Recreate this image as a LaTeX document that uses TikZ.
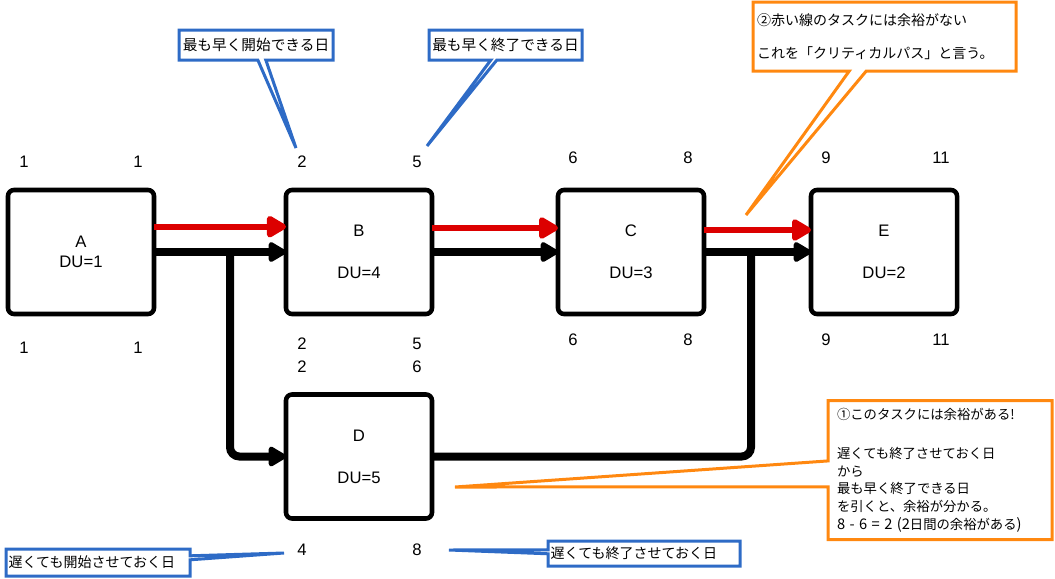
\documentclass[tikz,border=0pt]{standalone}
\usepackage{fontspec}
\setmainfont{Liberation Sans}
\newfontfamily\jp{Noto Sans CJK JP}
\usetikzlibrary{arrows.meta,shapes.callouts}
\definecolor{redline}{RGB}{220,0,0}
\definecolor{bluec}{RGB}{46,107,198}
\definecolor{orangec}{RGB}{255,136,16}
\begin{document}
\begin{tikzpicture}[x=0.75pt,y=-0.75pt,
  task/.style={draw, line width=3.4pt, rounded corners=4.5pt, minimum width=109.5pt, minimum height=93pt, inner sep=0pt, outer sep=0pt, align=center, font=\fontsize{12.5}{15}\selectfont},
  num/.style={font=\fontsize{12.5}{15}\selectfont, inner sep=0pt},
  redarr/.style={draw=redline, line width=4.5pt, -{Triangle[length=16.5pt,width=18pt,round]}},
  blkarr/.style={draw=black, line width=6pt, -{Triangle[length=15pt,width=16.5pt,round]}},
  blkline/.style={draw=black, line width=6pt},
  bcall/.style={rectangle callout, draw=bluec, line width=2.25pt, fill=white, inner sep=2pt},
  ocall/.style={rectangle callout, draw=orangec, line width=2.25pt, fill=white, inner sep=3pt}]
\useasboundingbox (0,0) rectangle (1055,578);

% task boxes
\node[task] (A) at (81,252) {A\\DU=1};
\node[task] (B) at (359,252) {B\\[16.5pt]DU=4};
\node[task] (C) at (631,252) {C\\[16.5pt]DU=3};
\node[task] (E) at (884,252) {E\\[16.5pt]DU=2};
\node[task] (D) at (359,456.5) {D\\[16.5pt]DU=5};

% numbers
\node[num] (a1) at (24,162) {1};
\node[num] (a2) at (138,162) {1};
\node[num] (a3) at (24,348) {1};
\node[num] (a4) at (138,348) {1};
\node[num] (b1) at (302,162) {2};
\node[num] (b2) at (417,162) {5};
\node[num] (b3) at (302,344) {2};
\node[num] (b4) at (417,344) {5};
\node[num] (b5) at (302,367) {2};
\node[num] (b6) at (417,367) {6};
\node[num] (c1) at (573,158) {6};
\node[num] (c2) at (688,158) {8};
\node[num] (c3) at (573,340) {6};
\node[num] (c4) at (688,340) {8};
\node[num] (e1) at (826,158) {9};
\node[num] (e2) at (941,158) {11};
\node[num] (e3) at (826,340) {9};
\node[num] (e4) at (941,340) {11};
\node[num] (d1) at (302,550) {4};
\node[num] (d2) at (417,550) {8};

% junctions
\coordinate (j1) at (230,252);
\coordinate (j2) at (751,252);

% black connectors
\draw[blkarr] (A.east) -- (B.west);
\draw[blkarr] (B.east) -- (C.west);
\draw[blkarr] (C.east) -- (E.west);
\draw[blkarr, rounded corners=7pt] (j1) |- (D.west);
\draw[blkline, rounded corners=7pt] (D.east) -| (j2);

% red connectors
\draw[redarr] ([yshift=19pt]A.east) -- ([yshift=19pt]B.west);
\draw[redarr] ([yshift=18pt]B.east) -- ([yshift=18pt]C.west);
\draw[redarr] ([yshift=16.5pt]C.east) -- ([yshift=16.5pt]E.west);

% callout tips
\coordinate (t1) at (296,148);
\coordinate (t2) at (427,146);
\coordinate (t3) at (746,215);
\coordinate (t4) at (455,487);
\coordinate (t5) at (284,553);
\coordinate (t6) at (449,550);

\node[bcall, minimum width=115.5pt, minimum height=22.5pt, callout absolute pointer={(t1)}, callout pointer width=6pt, font=\jp\fontsize{11}{13}\selectfont] (k1) at (256,45) {最も早く開始できる日};
\node[bcall, minimum width=114.75pt, minimum height=22.5pt, callout absolute pointer={(t2)}, callout pointer width=4.5pt, font=\jp\fontsize{11}{13}\selectfont] (k2) at (505.5,45) {最も早く終了できる日};
\node[ocall, minimum width=197.25pt, minimum height=51.75pt, text width=191pt, align=left, callout absolute pointer={(t3)}, callout pointer width=12.75pt, font=\jp\fontsize{10.5}{13}\selectfont] (k3) at (884.5,36.5) {②赤い線のタスクには余裕がない\\[12pt]これを「クリティカルパス」と言う。};
\node[ocall, inner xsep=6.75pt, minimum width=168pt, minimum height=104.25pt, text width=154.5pt, align=left, callout absolute pointer={(t4)}, callout pointer width=19.5pt, font=\jp\fontsize{10}{13.3}\selectfont] (k4) at (940,470) {①このタスクには余裕がある!\\[16pt]遅くても終了させておく日\\から\\最も早く終了できる日\\を引くと、余裕が分かる。\\{\fontsize{11}{13.3}\selectfont 8 - 6 = 2 (2}日間の余裕がある{\fontsize{11}{13.3}\selectfont )}};
\node[bcall, minimum width=138pt, minimum height=20.25pt, text width=134pt, align=left, callout absolute pointer={(t5)}, callout pointer width=3pt, font=\jp\fontsize{10.5}{12}\selectfont] (k5) at (98,562.5) {遅くても開始させておく日};
\node[bcall, minimum width=144pt, minimum height=18.75pt, text width=140pt, align=left, callout absolute pointer={(t6)}, callout pointer width=3pt, font=\jp\fontsize{10.5}{12}\selectfont] (k6) at (644,553.5) {遅くても終了させておく日};
\end{tikzpicture}
\end{document}
